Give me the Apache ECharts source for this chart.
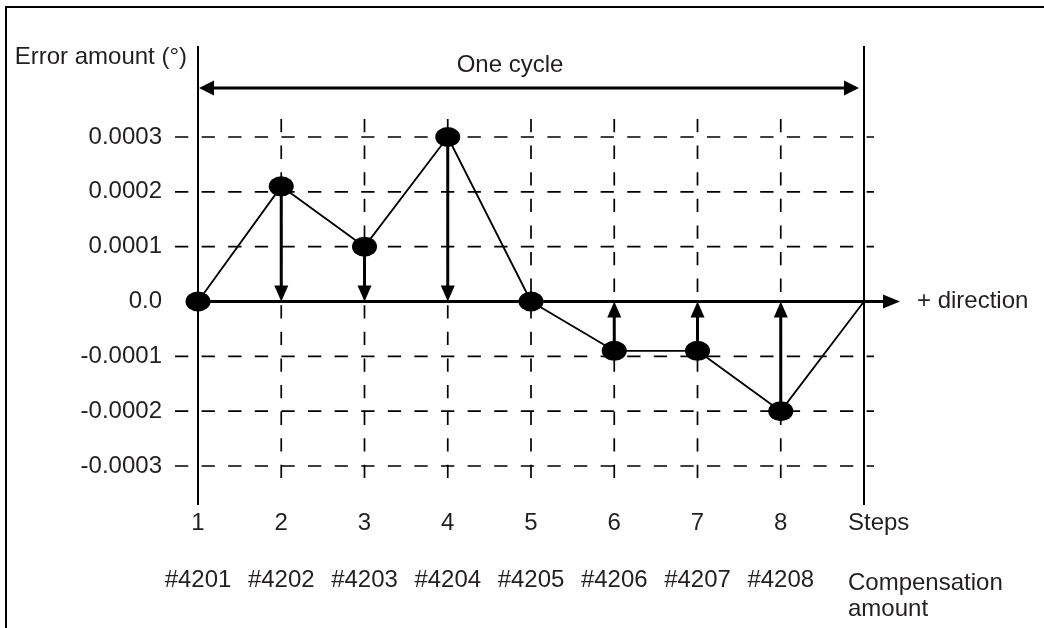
<!DOCTYPE html>
<html>
<head>
<meta charset="utf-8">
<script src="https://cdn.jsdelivr.net/npm/echarts@6/dist/echarts.min.js"></script>
<style>
html,body{margin:0;padding:0;background:#ffffff;}
#chart{width:1044px;height:628px;}
</style>
</head>
<body>
<div id="chart"></div>
<script>
// ---- data ----
const steps = ['1', '2', '3', '4', '5', '6', '7', '8', ''];
const compensationNumbers = ['#4201', '#4202', '#4203', '#4204', '#4205', '#4206', '#4207', '#4208', ''];
const errorValues = [0, 0.00021, 0.0001, 0.0003, 0, -0.00009, -0.00009, -0.0002, 0];
const yTicks = [-0.0003, -0.0002, -0.0001, 0, 0.0001, 0.0002, 0.0003];
const yTickLabels = ['-0.0003', '-0.0002', '-0.0001', '0.0', '0.0001', '0.0002', '0.0003'];
const yAxisTitle = 'Error amount (°)';
const stepsTitle = 'Steps';
const compensationTitle = 'Compensation\namount';
const cycleLabel = 'One cycle';
const directionLabel = '+ direction';

// ---- styling ----
const FONT = '"Liberation Sans", Arial, Helvetica, sans-serif';
const FS = 24;
const TXT = '#231f20';
const INK = '#000000';

const chart = echarts.init(document.getElementById('chart'), null, {renderer: 'canvas'});
const lastIdx = steps.length - 1;

function frameRender(params, api) {
  const c = (i, v) => api.coord([i, v]);
  const yMax = yTicks[yTicks.length - 1], yMin = yTicks[0];
  const left = c(0, 0)[0], right = c(lastIdx, 0)[0];
  const top = c(0, yMax)[1], bottom = c(0, yMin)[1];
  const y0 = c(0, 0)[1];
  const dash = {stroke: INK, lineWidth: 1.7, lineDash: [13.3, 13.3], fill: null};
  const ch = [];
  // horizontal dashed grid lines
  yTicks.forEach(t => {
    if (Math.abs(t) < 1e-12) return;
    const y = c(0, t)[1];
    ch.push({type: 'line', shape: {x1: left - 23, y1: y, x2: right + 10, y2: y}, style: dash});
  });
  // vertical dashed grid lines
  for (let i = 1; i < lastIdx; i++) {
    const x = c(i, 0)[0];
    ch.push({type: 'line', shape: {x1: x, y1: top - 18, x2: x, y2: bottom + 13}, style: dash});
  }
  // solid verticals (axis and end of cycle)
  [0, lastIdx].forEach(i => {
    const x = c(i, 0)[0];
    ch.push({type: 'line', shape: {x1: x, y1: top - 91, x2: x, y2: bottom + 39}, style: {stroke: INK, lineWidth: 2}});
  });
  // zero line with arrow (+ direction)
  ch.push({type: 'line', shape: {x1: left, y1: y0, x2: right + 22, y2: y0}, style: {stroke: INK, lineWidth: 3}});
  ch.push({type: 'polygon', shape: {points: [[right + 36, y0], [right + 19, y0 - 7], [right + 19, y0 + 7]]}, style: {fill: INK}});
  ch.push({type: 'text', x: right + 53, y: y0, style: {text: directionLabel, fill: TXT, font: FS + 'px ' + FONT, align: 'left', verticalAlign: 'middle'}});
  // one cycle double arrow
  const yc = top - 49;
  const lt = left + 1, rt = right - 5;
  ch.push({type: 'line', shape: {x1: lt + 12, y1: yc, x2: rt - 12, y2: yc}, style: {stroke: INK, lineWidth: 3}});
  ch.push({type: 'polygon', shape: {points: [[lt, yc], [lt + 15, yc - 7.5], [lt + 15, yc + 7.5]]}, style: {fill: INK}});
  ch.push({type: 'polygon', shape: {points: [[rt, yc], [rt - 15, yc - 7.5], [rt - 15, yc + 7.5]]}, style: {fill: INK}});
  ch.push({type: 'text', x: (left + right) / 2 - 21, y: top - 72, style: {text: cycleLabel, fill: TXT, font: FS + 'px ' + FONT, align: 'center', verticalAlign: 'middle'}});
  return {type: 'group', children: ch};
}

function arrowRender(params, api) {
  const i = api.value(0), v = api.value(1);
  if (Math.abs(v) < 1e-12 || i === lastIdx) return {type: 'group', children: []};
  const p = api.coord([i, v]), z = api.coord([i, 0]);
  const dir = v > 0 ? 1 : -1;
  const headLen = 16, half = 7;
  const baseY = z[1] - dir * headLen;
  return {
    type: 'group',
    children: [
      {type: 'line', shape: {x1: p[0], y1: p[1], x2: p[0], y2: baseY + dir * 2}, style: {stroke: INK, lineWidth: 3}},
      {type: 'polygon', shape: {points: [[z[0], z[1]], [z[0] - half, baseY], [z[0] + half, baseY]]}, style: {fill: INK}}
    ]
  };
}

const labelBase = {color: TXT, fontSize: FS, fontFamily: FONT};

const option = {
  animation: false,
  backgroundColor: '#ffffff',
  grid: {left: 198, top: 137, width: 666, height: 329, containLabel: false, outerBoundsMode: 'none'},
  xAxis: [
    {
      type: 'category', data: steps, boundaryGap: false, position: 'bottom', offset: 57,
      axisLine: {show: false, onZero: false}, axisTick: {show: false}, splitLine: {show: false},
      axisLabel: Object.assign({margin: 0, verticalAlign: 'middle', interval: 0, hideOverlap: false}, labelBase),
      name: stepsTitle, nameLocation: 'end', nameGap: -16, nameMoveOverlap: false,
      nameTextStyle: Object.assign({align: 'left', verticalAlign: 'middle'}, labelBase)
    },
    {
      type: 'category', data: compensationNumbers, boundaryGap: false, position: 'bottom', offset: 130,
      axisLine: {show: false, onZero: false}, axisTick: {show: false}, splitLine: {show: false},
      axisLabel: Object.assign({margin: -16, verticalAlign: 'middle', interval: 0, hideOverlap: false}, labelBase),
      name: compensationTitle, nameLocation: 'end', nameGap: -16, nameMoveOverlap: false,
      nameTextStyle: Object.assign({align: 'left', verticalAlign: 'middle', lineHeight: 26}, labelBase)
    }
  ],
  yAxis: {
    type: 'value', min: yTicks[0], max: yTicks[yTicks.length - 1], interval: 0.0001,
    axisLine: {show: false}, axisTick: {show: false}, splitLine: {show: false},
    axisLabel: Object.assign({
      margin: 36,
      formatter: v => {
        const k = yTicks.findIndex(t => Math.abs(t - v) < 1e-9);
        return k >= 0 ? yTickLabels[k] : '';
      }
    }, labelBase),
    name: yAxisTitle, nameLocation: 'end', nameGap: 80, nameMoveOverlap: false,
    nameTextStyle: Object.assign({align: 'right', verticalAlign: 'middle', padding: [0, 11, 0, 0]}, labelBase)
  },
  graphic: [
    {type: 'polyline', shape: {points: [[6, 628], [6, 7], [1044, 7]]}, style: {stroke: INK, lineWidth: 2, fill: null}, z: 0}
  ],
  series: [
    {
      type: 'custom', name: 'frame', xAxisIndex: 0, yAxisIndex: 0,
      data: [[0, 0]], renderItem: frameRender, clip: false, silent: true, z: 1
    },
    {
      type: 'custom', name: 'arrows', xAxisIndex: 0, yAxisIndex: 0,
      data: errorValues.map((v, i) => [i, v]), encode: {x: 0, y: 1},
      renderItem: arrowRender, clip: false, silent: true, z: 2
    },
    {
      type: 'line', name: 'error', xAxisIndex: 0, yAxisIndex: 0,
      data: errorValues.map((v, i) => i === lastIdx ? {value: v, symbol: 'none'} : v),
      symbol: 'circle', symbolSize: [25, 20], showSymbol: true, showAllSymbol: true,
      itemStyle: {color: INK, borderWidth: 0},
      lineStyle: {color: INK, width: 1.8},
      emphasis: {disabled: true}, silent: true, z: 3
    }
  ]
};
chart.setOption(option);
</script>
</body>
</html>
